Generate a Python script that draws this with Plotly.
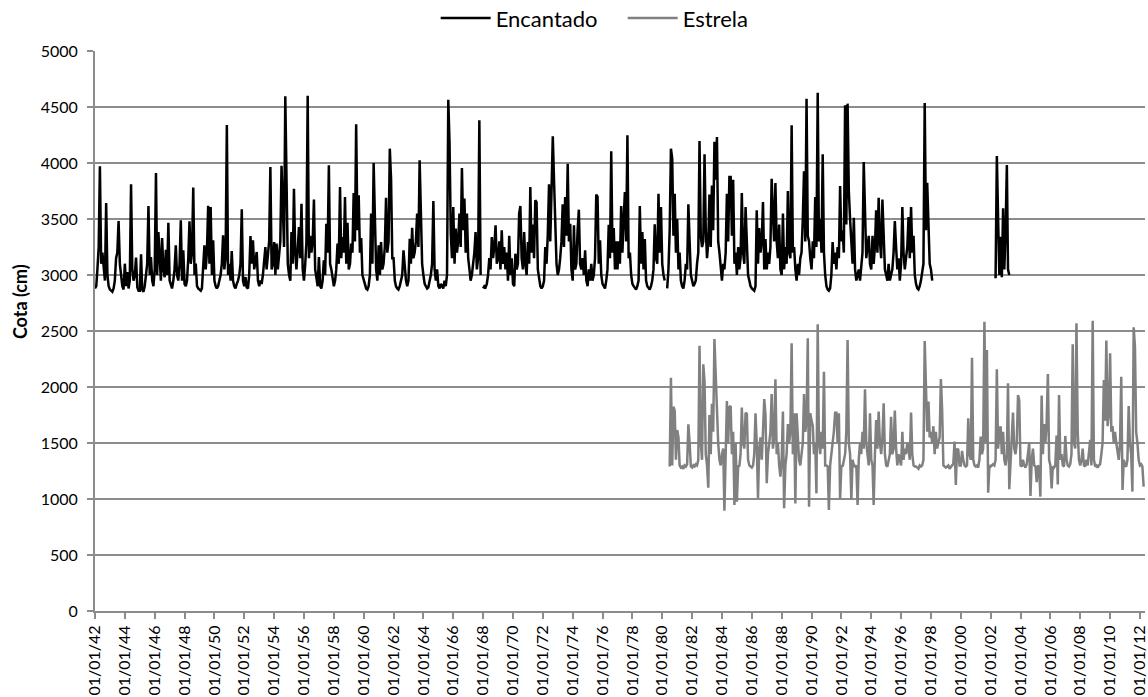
import pandas as pd
import plotly.graph_objects as go

# ---------------- data (monthly readings, cm) ----------------
# Encantado, one row per year starting 1942-01
enc_1940s = [
    [2880, 2900, 3050, 3250, 3970, 3100, 3200, 3050, 2950, 3643, 3000, 2900],
    [2870, 2860, 2850, 2880, 2950, 3150, 3200, 3482, 3100, 3000, 2900, 2870],
    [3101, 2900, 3027, 2880, 2950, 3810, 3050, 2950, 3000, 3155, 2890, 2860],
    [2860, 3185, 2870, 2850, 2900, 3000, 3100, 3616, 3000, 3160, 2950, 2900],
    [3050, 3911, 3000, 3384, 3100, 2950, 3330, 3050, 2980, 3226, 3000, 3467],
    [2950, 2900, 2880, 2950, 3050, 3265, 3000, 2950, 3100, 3488, 2950, 3220],
    [2920, 2900, 2950, 3150, 3479, 3100, 3200, 3780, 3000, 3101, 2900, 2880],
    [2870, 2860, 2880, 3150, 3265, 3050, 3200, 3619, 3100, 3607, 3000, 3310],
]
enc_1950s = [
    [2950, 2900, 2880, 2900, 2950, 3000, 3100, 3354, 3050, 3150, 4340, 3000],
    [3100, 2950, 3214, 2950, 2900, 2880, 2920, 2950, 3000, 3100, 3586, 2950],
    [2900, 2982, 2890, 2880, 3000, 3348, 3100, 3310, 3050, 3150, 3205, 2950],
    [2900, 2950, 2920, 3000, 3100, 3250, 3050, 3150, 3300, 3964, 3050, 3100],
    [3295, 3000, 3280, 3050, 3150, 3300, 3976, 3577, 3250, 4595, 3667, 3100],
    [3000, 2950, 3384, 3100, 3770, 3200, 3050, 3250, 3428, 3150, 3637, 3050],
    [2950, 3100, 3295, 4600, 3150, 3350, 3200, 3300, 3673, 3050, 2950, 2900],
    [3160, 2900, 2880, 2950, 3130, 3000, 3458, 3200, 3979, 3100, 3050, 2950],
    [2900, 2950, 3050, 3280, 3100, 3786, 3150, 3339, 3200, 3697, 3100, 3467],
    [3050, 3100, 3280, 3200, 3732, 3300, 4345, 3400, 3711, 3200, 3330, 3000],
]
enc_1960s = [
    [2950, 2900, 2880, 2870, 2900, 3000, 3548, 3100, 4000, 3520, 3050, 2950],
    [3265, 3000, 3295, 3050, 3100, 3250, 3690, 3200, 3300, 4128, 3860, 3150],
    [3150, 2950, 2900, 2880, 2870, 2900, 2950, 3000, 3220, 3050, 2950, 2900],
    [2950, 3324, 3100, 3422, 3150, 3200, 3300, 3548, 3250, 4024, 3450, 3100],
    [3000, 2920, 2900, 2880, 2890, 2950, 3000, 3100, 3661, 3050, 2950, 3050],
    [2900, 2880, 2920, 2900, 2880, 2950, 2900, 3000, 4565, 4190, 3369, 3150],
    [3607, 3100, 3414, 3200, 3300, 3548, 3250, 3955, 3400, 3682, 3200, 3548],
    [3150, 3050, 2950, 3000, 3100, 3200, 3384, 3050, 3150, 4381, 3000, None],
    [2880, 2900, 2890, 2920, 3000, 3150, 3050, 3339, 3150, 3250, 3443, 3100],
    [3150, 3300, 3050, 3400, 3100, 3250, 3050, 3200, 2950, 3350, 3000, 3150],
]
enc_1970s = [
    [2920, 2900, 3190, 3050, 3100, 3548, 3616, 3150, 3050, 3384, 3100, 3000],
    [3295, 3100, 3786, 3200, 3450, 3150, 3667, 3650, 3050, 2950, 2900, 2880],
    [2900, 2950, 3250, 3100, 3354, 3810, 3300, 3750, 4238, 3850, 3458, 3100],
    [3000, 3050, 3150, 3300, 3631, 3250, 3697, 3350, 3994, 3300, 3458, 3050],
    [2950, 3443, 3050, 3100, 3400, 3583, 3100, 3050, 3150, 3000, 3220, 2950],
    [2900, 3050, 2950, 3100, 2950, 3000, 3150, 3718, 3700, 3100, 3310, 3000],
    [2920, 2900, 2880, 2950, 3050, 3449, 3150, 4104, 3200, 3420, 3050, 3300],
    [3050, 3300, 3100, 3616, 3200, 3500, 3741, 3300, 4247, 3150, 3200, 3000],
    [2920, 2900, 2880, 2870, 2900, 2950, 3616, 3100, 3384, 3050, 3320, 2950],
    [2900, 2880, 2870, 2900, 2950, 3050, 3452, 3150, 3100, 3726, 3200, 3607],
]
enc_1980s = [
    [3100, 3000, 2950, None, 2880, 3050, 3400, 4128, 4040, 3350, 3726, 3200],
    [3500, 3050, 3200, 2950, 2900, 2880, 2950, 3100, 3050, 3631, 3300, 3000],
    [2950, 2900, 2920, 2950, 3100, 3200, 4196, 3350, 3250, 3300, 4077, 3400],
    [3150, 3300, 3718, 3250, 3800, 3400, 4190, 3850, 4232, 3300, 3200, 3050],
    [2950, 3100, 3050, 3200, 3726, 3300, 3875, 3875, 3350, 3851, 3100, 3200],
    [3000, 3250, 3050, 3150, 3732, 3200, 3100, 3607, 3250, 3000, 2950, 2900],
    [2880, 2870, 2860, 2900, 3577, 3100, 3420, 3200, 3300, 3652, 3050, 3320],
    [3050, 3200, 3100, 3250, 3860, 3550, 3300, 3821, 3300, 3150, 3450, 3050],
    [3000, 3548, 3050, 3250, 3100, 3750, 3200, 3150, 4336, 3200, 3250, 3050],
    [2950, 3100, 3000, 3150, 3200, 3500, 3926, 3300, 4574, 3350, 3300, 3150],
]
enc_1990s = [
    [3050, 3300, 3150, 3697, 3250, 4628, 3300, 3500, 3200, 4077, 3200, 3000],
    [2900, 2870, 2860, 2880, 3000, 3295, 3100, 3200, 3050, 3250, 3150, 3795],
    [3300, 3400, 3200, 4515, 3450, 4530, 3750, 3500, 3250, 3100, 3512, 3050],
    [2950, 3000, 3050, 2950, 3100, 3200, 4009, 3500, 3150, 3250, 3350, 3100],
    [3050, 3350, 3100, 3250, 3577, 3200, 3690, 3300, 3150, 3673, 3400, 3050],
    [3000, 2950, 3100, 2950, 3000, 3050, 3200, 3482, 3250, 3050, 3150, 2950],
    [3100, 3607, 3200, 3050, 3150, 3250, 3518, 3150, 3607, 3200, 3350, 3000],
    [2920, 2880, 2870, 2900, 2950, 3050, 3100, 4536, 3400, 3824, 3500, 3100],
    [3050, 2950],
]
# Encantado, short record starting 2002-05
enc_2002_03 = [
    [2970, 4063, 3521, 3000, 3342, 2980, 3595, 3050],
    [3400, 3983, 3050, 3000],
]

# Estrela, starting 1980-07
est_1980s = [
    [1290, 2083, 1300, 1824, 1789, 1350],
    [1616, 1550, 1300, 1280, 1290, 1270, 1300, 1290, 1310, 1667, 1500, 1290],
    [1280, 1300, 1290, 1310, 1300, 1350, 2369, 1500, 1350, 2202, 2050, 1400],
    [1300, 1101, 1750, 1400, 1850, 1600, 2429, 2100, 1700, 1500, 1350, 1300],
    [1400, 1450, 896, 1300, 1875, 1500, 1820, 1830, 1400, 1600, 947, 1500],
    [976, 1300, 1290, 1400, 1816, 1500, 1450, 1770, 1760, 1350, 1300, 1290],
    [1280, 1300, 1400, 1765, 1500, 1006, 1450, 1550, 1350, 1600, 1893, 1750],
    [1140, 1400, 1500, 1600, 1938, 1450, 1550, 2068, 1400, 1500, 1300, 1200],
    [1350, 1780, 917, 1300, 1400, 1670, 1500, 1600, 2390, 1400, 1765, 961],
    [1765, 1500, 1350, 1300, 1400, 1500, 1938, 1600, 1700, 2435, 931, 1765],
]
est_1990s = [
    [1700, 1650, 1400, 1500, 1050, 2560, 1500, 1400, 1600, 1450, 2137, 1300],
    [1300, 1290, 902, 1300, 1400, 1500, 1600, 1771, 1771, 1500, 1765, 1000],
    [1300, 1290, 1350, 1400, 1600, 2420, 1500, 1400, 991, 1350, 1300, 1290],
    [1300, 947, 1350, 1500, 1400, 1600, 1450, 1979, 1500, 1400, 1300, 1765],
    [1350, 1300, 947, 1400, 1705, 1450, 1780, 1500, 1400, 1550, 1854, 1400],
    [1300, 1290, 1350, 1400, 1735, 1400, 1450, 1789, 1450, 1300, 1400, 1350],
    [1300, 1601, 1350, 1450, 1400, 1500, 1450, 1350, 1771, 1400, 1300, 1290],
    [1290, 1280, 1270, 1300, 1290, 1300, 1350, 2411, 1900, 1600, 1870, 1550],
    [1600, 1500, 1650, 1400, 1600, 1450, 1500, 1550, 2071, 1800, 1300, 1290],
    [1280, 1290, 1300, 1270, 1290, 1300, 1310, 1512, 1125, 1450, 1440, 1300],
]
est_2000s = [
    [1300, 1430, 1350, 1300, 1290, 1300, 1720, 1400, 1350, 2262, 1350, 1300],
    [1290, 1300, 1280, 1350, 1557, 1400, 1450, 2583, 1500, 2330, 1057, 1300],
    [1290, 1300, 1310, 1300, 1350, 2158, 1450, 1600, 1650, 1400, 1600, 1350],
    [1300, 1400, 2033, 1087, 1350, 1500, 1771, 1450, 1400, 1500, 1929, 1880],
    [1300, 1290, 1350, 1300, 1280, 1310, 1400, 1500, 1027, 1350, 1450, 1300],
    [1290, 1150, 1300, 1280, 1021, 1923, 1400, 1670, 1500, 1680, 2116, 1350],
    [1300, 1095, 1290, 1280, 1300, 1566, 1130, 1929, 1350, 1400, 1300, 1290],
    [1563, 1350, 1300, 1290, 1310, 1400, 2381, 1500, 1450, 2568, 1600, 1350],
    [1300, 1350, 1450, 1300, 1290, 1350, 1300, 1400, 1527, 1300, 2592, 1350],
    [1290, 1300, 1280, 1300, 1310, 1400, 1500, 2063, 1700, 2414, 1650, 1750],
]
est_2010s = [
    [2301, 1600, 1650, 1500, 1600, 1500, 1400, 1350, 1500, 2092, 1080, 1350],
    [1300, 1290, 1350, 1830, 1500, 1400, 1066, 2533, 2360, 1600, 1500, 1350],
    [1300, 1310, 1290, 1110],
]

tick_years = list(range(1942, 2013, 2))
tick_labels = ["01/01/%02d" % (y % 100) for y in tick_years]


def monthly(start, blocks):
    vals = [v for block in blocks for row in block for v in row]
    dates = pd.date_range(start, periods=len(vals), freq="MS")
    return list(dates), vals


d1, v1 = monthly("1942-01-01", [enc_1940s, enc_1950s, enc_1960s, enc_1970s, enc_1980s, enc_1990s])
d2, v2 = monthly("2002-05-01", [enc_2002_03])
enc_x = d1 + [pd.Timestamp("2000-01-01")] + d2
enc_y = v1 + [None] + v2

est_x, est_y = monthly("1980-07-01", [est_1980s, est_1990s, est_2000s, est_2010s])

FONT = "Lato, 'Open Sans', sans-serif"
GRID = "#8c8c8c"

fig = go.Figure()
fig.add_trace(go.Scatter(x=enc_x, y=enc_y, mode="lines", name="Encantado",
                         line=dict(color="#000000", width=2.5), connectgaps=False))
fig.add_trace(go.Scatter(x=est_x, y=est_y, mode="lines", name="Estrela",
                         line=dict(color="#808080", width=2.5), connectgaps=False))

fig.update_layout(
    width=1148, height=697,
    margin=dict(l=95, r=0, t=51, b=86),
    paper_bgcolor="white", plot_bgcolor="white",
    font=dict(family=FONT, size=16, color="#000000"),
    showlegend=True,
    legend=dict(orientation="h", xref="container", yref="container",
                x=0.5424, xanchor="center", y=0.974, yanchor="middle",
                font=dict(size=22), itemwidth=50, entrywidth=122,
                bgcolor="rgba(0,0,0,0)"),
    annotations=[dict(text="<b>Cota (cm)</b>", textangle=-90, xref="paper", yref="paper",
                      x=-0.0712, xanchor="center", y=0.552, yanchor="middle",
                      showarrow=False, font=dict(size=18))],
)
fig.update_xaxes(
    type="date", range=["1942-01-01", "2012-05-04"],
    tickvals=[pd.Timestamp(y, 1, 1) for y in tick_years], ticktext=tick_labels,
    tickangle=-90, ticks="outside", ticklen=6, tickwidth=2, tickcolor=GRID,
    showline=True, linecolor=GRID, linewidth=2, showgrid=False, zeroline=False,
    tickfont=dict(size=16), ticklabeloverflow="allow",
)
fig.update_yaxes(
    range=[0, 5000], dtick=500, tick0=0,
    ticks="outside", ticklen=6, tickwidth=2, tickcolor=GRID,
    showline=True, linecolor=GRID, linewidth=2,
    showgrid=True, gridcolor=GRID, gridwidth=2, zeroline=False,
    tickfont=dict(size=16), ticklabelstandoff=6,
)

fig.write_html("out.html")
